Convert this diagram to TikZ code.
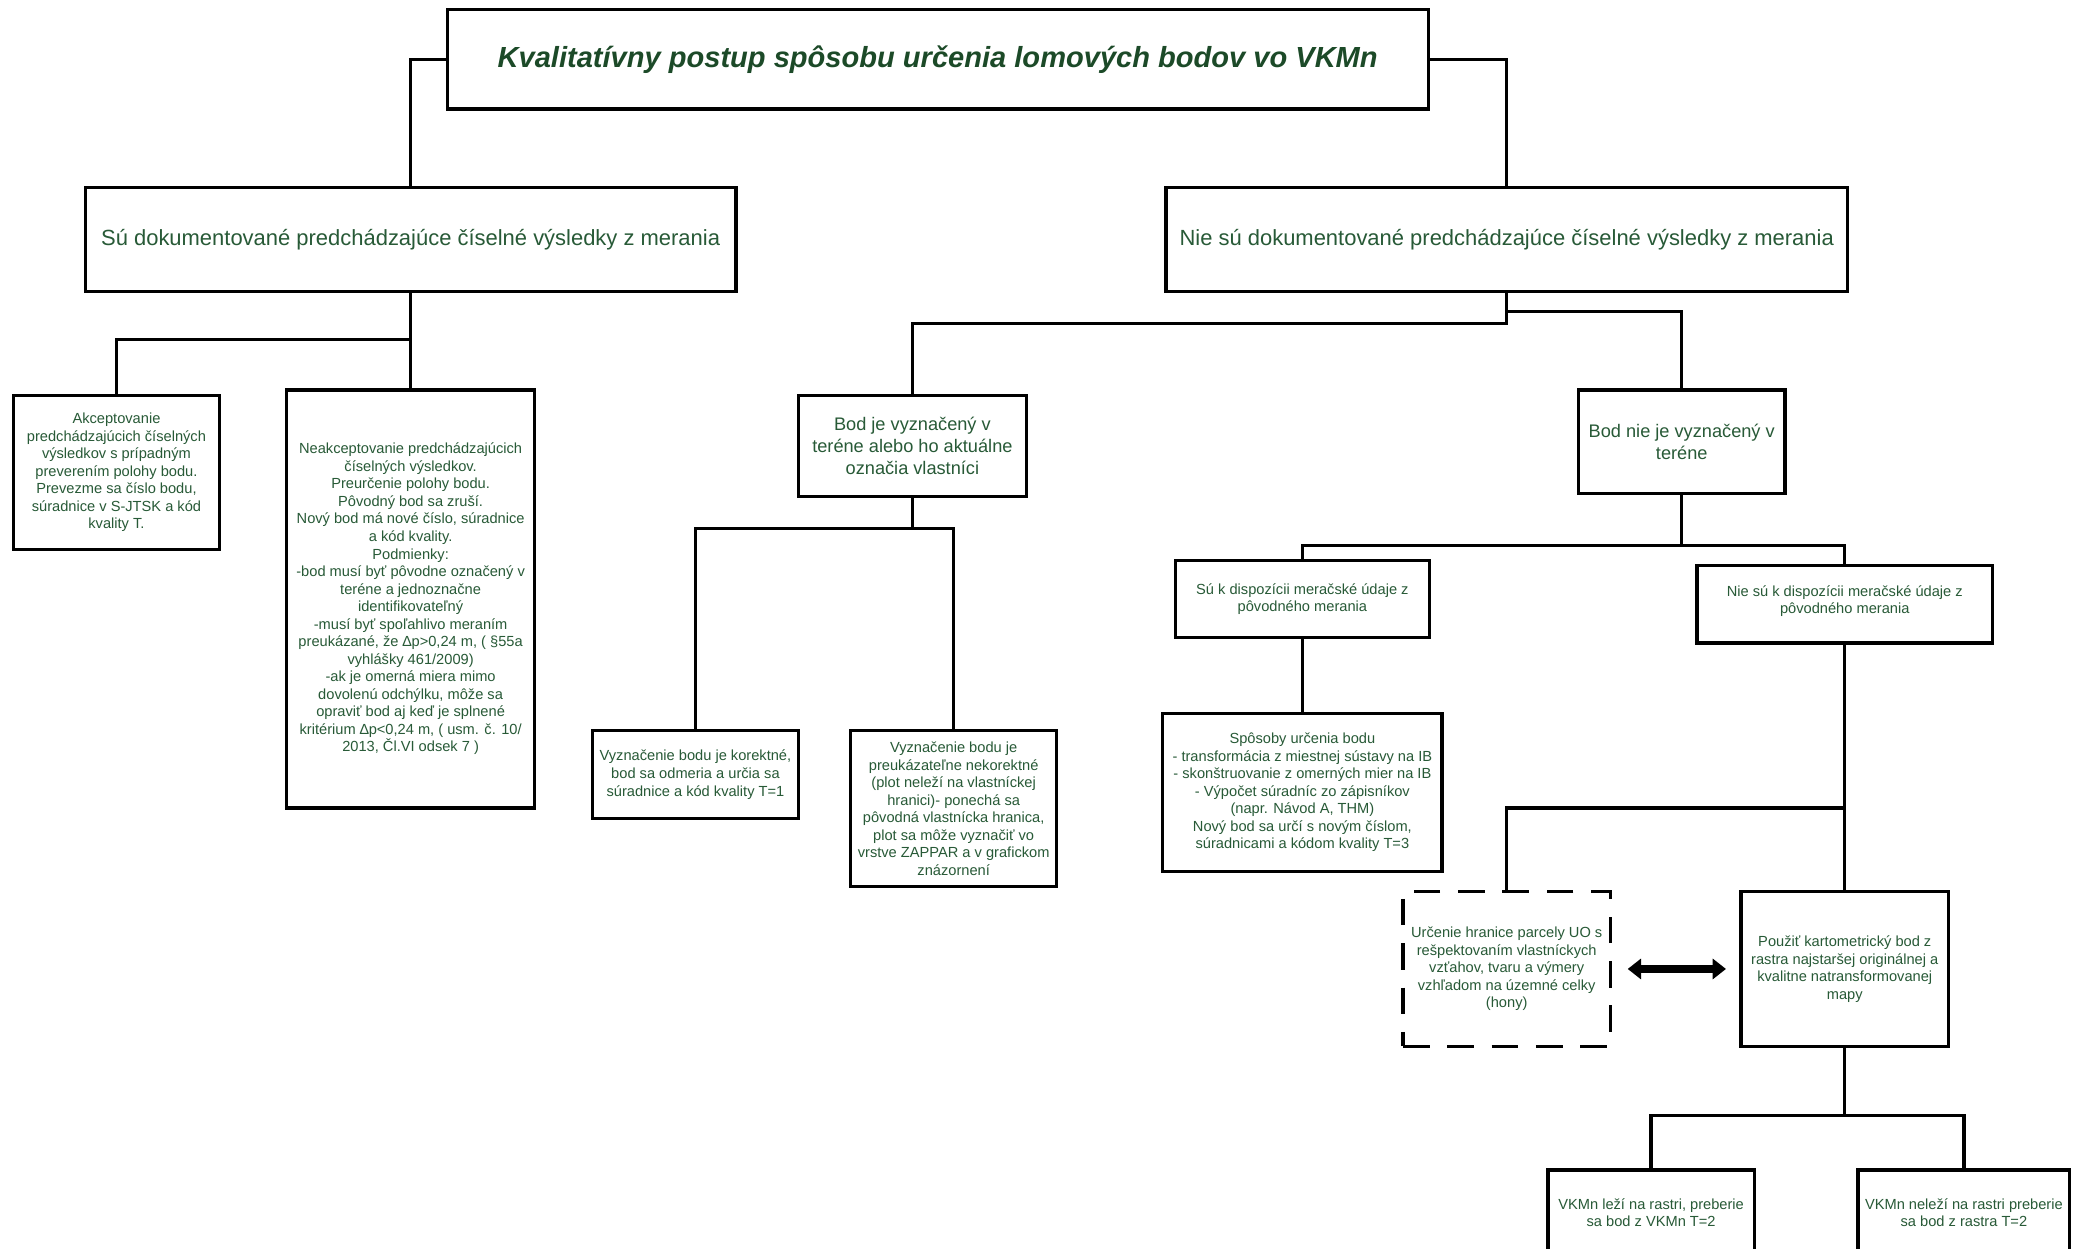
\documentclass[tikz,border=0pt]{standalone}
\usepackage{fontspec}
\setmainfont{Liberation Sans}
\usetikzlibrary{arrows.meta}
\definecolor{titlegreen}{RGB}{28,74,40}
\definecolor{textgreen}{RGB}{40,90,55}
\begin{document}
\begin{tikzpicture}[x=0.6pt,y=-0.6pt,
  box/.style={draw=black,line width=1.5pt,fill=white,inner sep=0pt,align=center,text=textgreen},
  bigtext/.style={font=\fontsize{9.9pt}{11.9pt}\selectfont},
  midtext/.style={font=\fontsize{8.2pt}{9.9pt}\selectfont},
  smalltext/.style={font=\fontsize{6.6pt}{7.9pt}\selectfont},
  conn/.style={draw=black,line width=1.5pt},
  dashbox/.style={box,dash pattern=on 12pt off 8pt}]
\useasboundingbox (0,0) rectangle (1568,938);
\clip (0,0) rectangle (1568,938);
\fill[white] (0,0) rectangle (1568,938);

% boxes
\node[box,minimum width=442.2pt,minimum height=45pt,text=titlegreen,font=\fontsize{13.1pt}{15pt}\selectfont\bfseries\itshape] (T) at (704.5,44.5) {Kvalitatívny postup spôsobu určenia lomových bodov vo VKMn};
\node[box,bigtext,minimum width=293.4pt,minimum height=46.8pt] (A) at (308.5,180) {Sú dokumentované predchádzajúce číselné výsledky z merania};
\node[box,bigtext,minimum width=307.2pt,minimum height=46.8pt] (B) at (1132,180) {Nie sú dokumentované predchádzajúce číselné výsledky z merania};

\node[box,smalltext,minimum width=93pt,minimum height=69.6pt] (A1) at (87.5,355) {Akceptovanie\\predchádzajúcich číselných\\výsledkov s prípadným\\preverením polohy bodu.\\Prevezme sa číslo bodu,\\súradnice v S-JTSK a kód\\kvality T.};
\node[box,smalltext,minimum width=111.6pt,minimum height=188.4pt] (A2) at (308.5,450) {Neakceptovanie predchádzajúcich\\číselných výsledkov.\\Preurčenie polohy bodu.\\Pôvodný bod sa zruší.\\Nový bod má nové číslo, súradnice\\a kód kvality.\\Podmienky:\\-bod musí byť pôvodne označený v\\teréne a jednoznačne\\identifikovateľný\\-musí byť spoľahlivo meraním\\preukázané, že ∆p>0,24 m, ( §55a\\vyhlášky 461/2009)\\-ak je omerná miera mimo\\dovolenú odchýlku, môže sa\\opraviť bod aj keď je splnené\\kritérium ∆p<0,24 m, ( usm. č. 10/\\2013, Čl.VI odsek 7 )};

\node[box,midtext,minimum width=102.6pt,minimum height=45.6pt] (BJ) at (685.5,335) {Bod je vyznačený v\\teréne alebo ho aktuálne\\označia vlastníci};
\node[box,midtext,minimum width=93pt,minimum height=46.8pt] (BN) at (1263.5,332) {Bod nie je vyznačený v\\teréne};

\node[box,smalltext,minimum width=93pt,minimum height=39.6pt] (C1) at (522.5,582) {Vyznačenie bodu je korektné,\\bod sa odmeria a určia sa\\súradnice a kód kvality T=1};
\node[box,smalltext,minimum width=93pt,minimum height=70.2pt] (C2) at (716.5,607.5) {Vyznačenie bodu je\\preukázateľne nekorektné\\(plot neleží na vlastníckej\\hranici)- ponechá sa\\pôvodná vlastnícka hranica,\\plot sa môže vyznačiť vo\\vrstve ZAPPAR a v grafickom\\znázornení};

\node[box,smalltext,minimum width=114.6pt,minimum height=34.8pt] (D1) at (978.5,450) {Sú k dispozícii meračské údaje z\\pôvodného merania};
\node[box,smalltext,minimum width=133.2pt,minimum height=34.8pt,text depth=4pt] (D2) at (1386,454) {Nie sú k dispozícii meračské údaje z\\pôvodného merania};

\node[box,smalltext,minimum width=126pt,minimum height=71.4pt] (D1a) at (978.5,595.5) {Spôsoby určenia bodu\\- transformácia z miestnej sústavy na IB\\- skonštruovanie z omerných mier na IB\\- Výpočet súradníc zo zápisníkov\\(napr. Návod A, THM)\\Nový bod sa určí s novým číslom,\\súradnicami a kódom kvality T=3};

\node[dashbox,smalltext,minimum width=93.6pt,minimum height=69.6pt] (E1) at (1132,728) {Určenie hranice parcely UO s\\rešpektovaním vlastníckych\\vzťahov, tvaru a výmery\\vzhľadom na územné celky\\(hony)};
\node[box,smalltext,minimum width=93.6pt,minimum height=69.6pt] (E2) at (1386,728) {Použiť kartometrický bod z\\rastra najstaršej originálnej a\\kvalitne natransformovanej\\mapy};

\node[box,smalltext,minimum width=93pt,minimum height=38.4pt] (F1) at (1240.5,911) {VKMn leží na rastri, preberie\\sa bod z VKMn T=2};
\node[box,smalltext,minimum width=95.4pt,minimum height=38.4pt] (F2) at (1475.5,911) {VKMn neleží na rastri preberie\\sa bod z rastra T=2};

% junction coordinates
\coordinate (jA) at (308.5,255);
\coordinate (jB) at (1132,243);
\coordinate (jB2) at (1132,234);
\coordinate (jBJ) at (685.5,397);
\coordinate (jBN) at (1263.5,410);
\coordinate (jD2) at (1386,607);
\coordinate (jE2) at (1386,838);

% connectors
\draw[conn] (T.west) -| (A.north);
\draw[conn] (T.east) -| (B.north);
\draw[conn] (A.south) -- (jA) -| (A1.north);
\draw[conn] (jA) -- (A2.north);
\draw[conn] (B.south) -- (jB) -| (BJ.north);
\draw[conn] (jB2) -| (BN.north);
\draw[conn] (BJ.south) -- (jBJ);
\draw[conn] (C1.north) |- (jBJ) -| (C2.north);
\draw[conn] (BN.south) -- (jBN);
\draw[conn] (D1.north) |- (jBN) -| (D2.north);
\draw[conn] (D1.south) -- (D1a.north);
\draw[conn] (D2.south) -- (E2.north);
\draw[conn] (jD2) -| (E1.north);
\draw[conn] (E2.south) -- (jE2);
\draw[conn] (F1.north) |- (jE2) -| (F2.north);
\draw[line width=4pt,{Triangle[width=9pt,length=6pt]}-{Triangle[width=9pt,length=6pt]},shorten <=7pt,shorten >=6pt] (E1.east) -- (E2.west);
\end{tikzpicture}
\end{document}
